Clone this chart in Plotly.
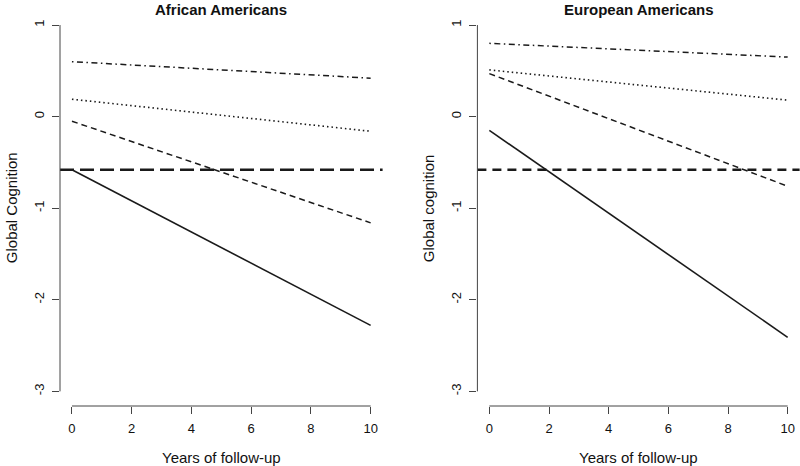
import plotly.graph_objects as go

# ---- data ----
years = [0, 10]
x_ticks = [0, 2, 4, 6, 8, 10]
y_ticks = [-3, -2, -1, 0, 1]
y_tick_labels = ["-3", "-2", "-1", "0", "1"]

aa_dotdash = [0.60, 0.42]
aa_dotted = [0.19, -0.16]
aa_dashed = [-0.05, -1.16]
aa_solid = [-0.58, -2.28]
aa_threshold = -0.58

ea_dotdash = [0.80, 0.65]
ea_dotted = [0.51, 0.18]
ea_dashed = [0.47, -0.76]
ea_solid = [-0.15, -2.41]
ea_threshold = -0.58

panel_titles = ["African Americans", "European Americans"]
y_titles = ["Global Cognition", "Global cognition"]
x_title = "Years of follow-up"

FONT = "Liberation Sans, Arial, Helvetica, sans-serif"
LINE = "#1a1a1a"
AX = "#444444"

fig = go.Figure()

styles = [
    ("1.5px,3.5px,6px,3.5px", 1.5),
    ("1.5px,3px", 1.6),
    ("6px,4px", 1.5),
    ("solid", 1.6),
]

panels = [
    (("x", "y"), [aa_dotdash, aa_dotted, aa_dashed, aa_solid], aa_threshold, "14px,6px"),
    (("x2", "y2"), [ea_dotdash, ea_dotted, ea_dashed, ea_solid], ea_threshold, "9px,6px"),
]

for (xa, ya), series, thr, thr_dash in panels:
    for vals, (dash, w) in zip(series, styles):
        fig.add_trace(go.Scatter(x=years, y=vals, mode="lines", xaxis=xa, yaxis=ya,
                                 line=dict(color=LINE, width=w, dash=dash),
                                 showlegend=False, hoverinfo="skip"))
    # horizontal reference line across the plot region
    fig.add_shape(type="line", xref=f"{xa} domain", yref=ya, x0=0, x1=1, y0=thr, y1=thr,
                  line=dict(color=LINE, width=2.6, dash=thr_dash))
    # R-style axis lines spanning only first to last tick
    fig.add_shape(type="line", xref=xa, yref=f"{ya} domain", x0=x_ticks[0], x1=x_ticks[-1],
                  y0=0, y1=0, line=dict(color=AX, width=1))
    fig.add_shape(type="line", xref=f"{xa} domain", yref=ya, x0=0, x1=0,
                  y0=y_ticks[0], y1=y_ticks[-1], line=dict(color=AX, width=1))

H = 466.0
W = 800.0
ydom = [(H - 406) / H, (H - 10.4) / H]
xdom1 = [60 / W, 382.6 / W]
xdom2 = [477.4 / W, 799.6 / W]

xcommon = dict(range=[-0.4, 10.4], tickvals=x_ticks, ticks="outside", ticklen=7,
               tickcolor=AX, showline=False, showgrid=False, zeroline=False,
               tickfont=dict(family=FONT, size=13, color="#111"), ticklabelstandoff=3)
ycommon = dict(range=[-3.16, 1.16], tickvals=y_ticks, ticktext=y_tick_labels,
               ticks="outside", ticklen=7,
               tickcolor=AX, showline=False, showgrid=False, zeroline=False,
               tickangle=-90, tickfont=dict(family=FONT, size=13, color="#111"),
               ticklabelstandoff=3)

fig.update_layout(
    width=800, height=466,
    margin=dict(l=0, r=0, t=0, b=0),
    paper_bgcolor="white", plot_bgcolor="white",
    xaxis=dict(domain=xdom1, anchor="y", **xcommon),
    yaxis=dict(domain=ydom, anchor="x", **ycommon),
    xaxis2=dict(domain=xdom2, anchor="y2", **xcommon),
    yaxis2=dict(domain=ydom, anchor="x2", **ycommon),
)

annos = []
centers = [(xdom1[0] + xdom1[1]) / 2, (xdom2[0] + xdom2[1]) / 2]
for i in range(2):
    annos.append(dict(text=f"<b>{panel_titles[i]}</b>", xref="paper", yref="paper",
                      x=centers[i], y=(H - 9.5) / H, showarrow=False,
                      font=dict(family=FONT, size=15, color="#111"),
                      xanchor="center", yanchor="middle"))
    annos.append(dict(text=x_title, xref="paper", yref="paper",
                      x=centers[i], y=(H - 457) / H, showarrow=False,
                      font=dict(family=FONT, size=15, color="#111"),
                      xanchor="center", yanchor="middle"))
ytitle_x = [11 / W, 428 / W]
for i in range(2):
    annos.append(dict(text=y_titles[i], xref="paper", yref="paper",
                      x=ytitle_x[i], y=(ydom[0] + ydom[1]) / 2, showarrow=False,
                      textangle=-90, font=dict(family=FONT, size=15, color="#111"),
                      xanchor="center", yanchor="middle"))
fig.update_layout(annotations=annos)

fig.write_html("out.html", config={"displayModeBar": False},
               post_script="document.body.style.margin='0';document.body.style.padding='0';"
                           "document.documentElement.style.overflow='hidden';")
